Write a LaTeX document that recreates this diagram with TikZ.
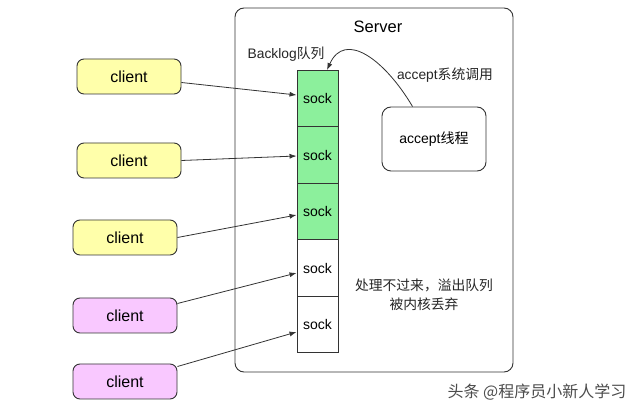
\documentclass[tikz,border=0pt]{standalone}
\usepackage{fontspec}
\setmainfont{Liberation Sans}
\newfontfamily\cjk{Noto Sans CJK SC}
\usetikzlibrary{arrows.meta}
\definecolor{sockgreen}{HTML}{8CF09C}
\definecolor{cliyellow}{HTML}{FFFFAA}
\definecolor{clipink}{HTML}{F9C8FF}
\definecolor{linegray}{HTML}{333333}
\tikzset{
  sockbox/.style={draw=linegray, line width=0.9pt, minimum width=41pt, minimum height=56.5pt, inner sep=0pt, font=\fontsize{14}{16}\selectfont},
  clientbox/.style={draw=linegray, line width=0.9pt, rounded corners=7pt, minimum width=104pt, minimum height=35pt, inner sep=0pt, font=\fontsize{16}{18}\selectfont},
  arr/.style={draw=linegray, line width=0.8pt, -{Latex[length=7pt,width=5pt]}},
  lbl/.style={inner sep=0pt, font=\fontsize{13.8}{16}\selectfont, text=black!85},
}
\begin{document}
\begin{tikzpicture}[x=1pt,y=-1pt]
\useasboundingbox[fill=white] (0,0) rectangle (640,411);
% server box
\draw[draw=linegray, line width=0.9pt, rounded corners=9pt] (235,8) rectangle (513,372);
\node[inner sep=0pt, font=\fontsize{16.5}{18}\selectfont] (server) at (378,27) {Server};
% sock column
\node[sockbox, fill=sockgreen] (s1) at (317.5,98.5) {sock};
\node[sockbox, fill=sockgreen] (s2) at (317.5,155) {sock};
\node[sockbox, fill=sockgreen] (s3) at (317.5,211.5) {sock};
\node[sockbox, fill=white] (s4) at (317.5,268) {sock};
\node[sockbox, fill=white] (s5) at (317.5,324.5) {sock};
% labels
\node[lbl] (backlog) at (286,54) {Backlog{\cjk 队列}};
\node[lbl] (acccall) at (445,75) {accept{\cjk 系统调用}};
\node[draw=linegray, line width=0.9pt, rounded corners=9pt, minimum width=104pt, minimum height=64pt, inner sep=0pt, font=\fontsize{14}{16}\selectfont] (acc) at (434,139) {accept{\cjk 线程}};
\node[lbl, align=center, font=\fontsize{13.8}{19}\selectfont\cjk] (drop) at (424,295) {处理不过来，溢出队列\\被内核丢弃};
% clients
\node[clientbox, fill=cliyellow] (c1) at (129,76.5) {client};
\node[clientbox, fill=cliyellow] (c2) at (129,160.5) {client};
\node[clientbox, fill=cliyellow] (c3) at (125,237.5) {client};
\node[clientbox, fill=clipink] (c4) at (125,315.5) {client};
\node[clientbox, fill=clipink] (c5) at (125,381.5) {client};
% arrows
\draw[arr] (c1.east) ++(0,6) coordinate (c1o) -- (s1.west |- 0,95);
\draw[arr] (c2.east) -- (s2.west |- 0,156);
\draw[arr] (c3.east) -- (s3.west |- 0,215);
\draw[arr] (c4.east) ++(0,-12) -- (s4.west |- 0,273);
\draw[arr] (c5.east) ++(0,-15) -- (s5.west |- 0,332);
\coordinate (tipend) at (327,70);
\draw[arr] (acc.north west) ++(31,0) .. controls (385,60) and (345,30) .. (tipend);
% watermark
\node[inner sep=0pt, font=\fontsize{16}{18}\selectfont\cjk, text=black!70] (wm) at (537,392) {头条 @程序员小新人学习};
\end{tikzpicture}
\end{document}
